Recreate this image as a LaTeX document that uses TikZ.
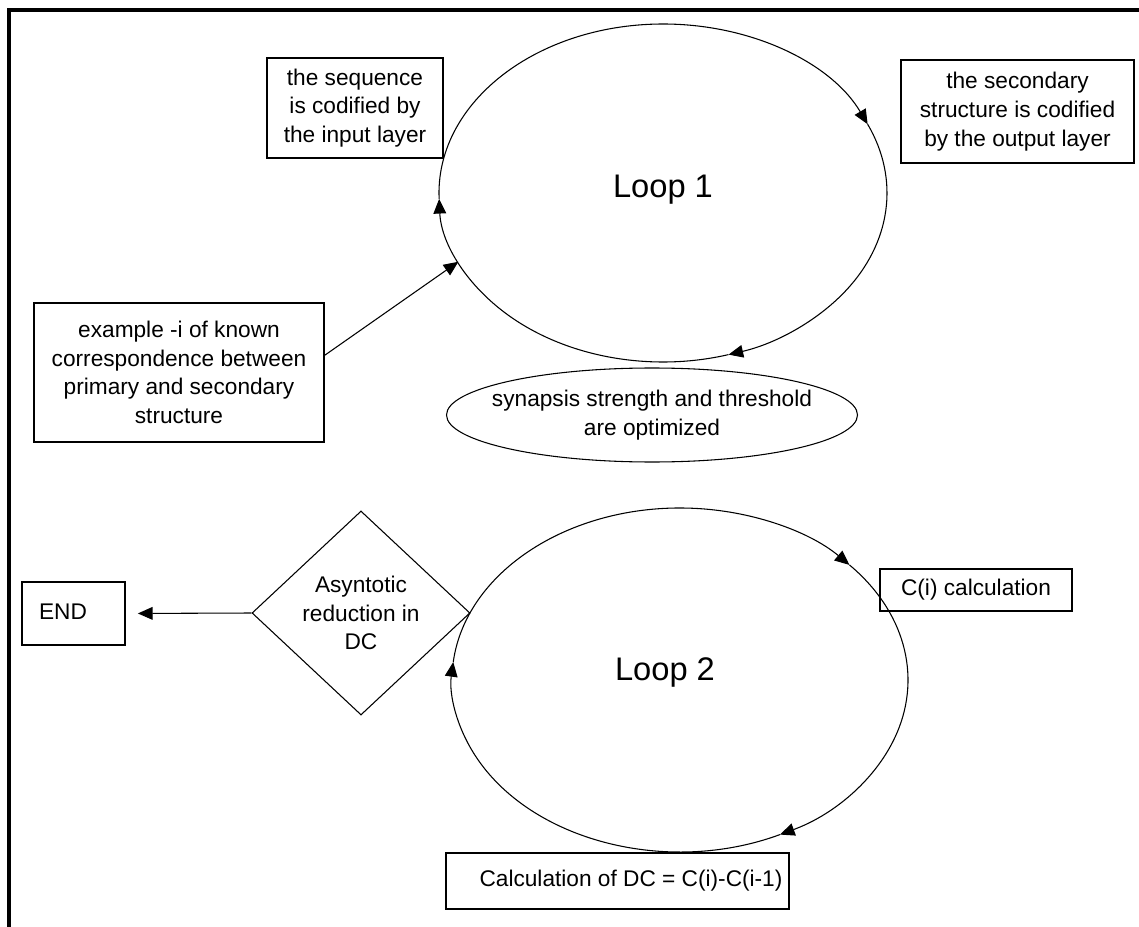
\documentclass[tikz,border=0pt]{standalone}
\usepackage{fontspec}
\setmainfont{Liberation Sans}
\usetikzlibrary{shapes.geometric,arrows.meta,calc}
\begin{document}
\begin{tikzpicture}[x=0.75pt,y=-0.75pt,
  box/.style={draw, line width=1.3pt, inner sep=0pt},
  txt/.style={font=\fontsize{17}{21.5}\selectfont, align=center},
  big/.style={font=\fontsize{24.5}{29}\selectfont},
  lp/.style={line width=0.8pt},
  tip/.style={-{Triangle[length=11pt,width=9.5pt]}},
]
\useasboundingbox (0,0) rectangle (1139,927);
% frame
\draw[line width=3pt] (1139,10) -- (8.5,10) -- (8.5,927);

% ---------- Loop 1 ----------
\coordinate (c1) at (663,193);
\node[big] (loop1) at (663,190) {Loop 1};
\draw[lp,tip] (c1) ++(178:224 and 169) arc[start angle=178, end angle=336, x radius=224, y radius=169];
\draw[lp,tip] (c1) ++(336:224 and 169) arc[start angle=336, end angle=433, x radius=224, y radius=169];
\draw[lp,tip] (c1) ++(73:224 and 169) arc[start angle=73, end angle=178, x radius=224, y radius=169];
\coordinate (l1in) at ($(c1)+(156:224 and 169)$);

\node[box, txt, minimum width=132pt, minimum height=75pt] (seq) at (355,108)
  {the sequence\\is codified by\\the input layer};
\node[box, txt, minimum width=174.75pt, minimum height=77.25pt] (sec) at (1017.5,111.5)
  {the secondary\\structure is codified\\by the output layer};
\node[box, txt, minimum width=217.5pt, minimum height=104.25pt] (ex) at (179,372.5)
  {example -i of known\\correspondence between\\primary and secondary\\structure};
\node[txt] (syn) at (652,415) {synapsis strength and threshold\\are optimized};
\draw[lp] (syn.center) ellipse[x radius=205.5, y radius=47];
\draw[lp,tip] ([yshift=13pt]ex.east) -- (l1in);

% ---------- Loop 2 ----------
\coordinate (c2) at (680,680);
\node[big] (loop2) at (665,672) {Loop 2};
\draw[lp,tip] (c2) ++(186:228 and 172) arc[start angle=186, end angle=318, x radius=228, y radius=172];
\draw[lp,tip] (c2) ++(318:228 and 172) arc[start angle=318, end angle=424, x radius=228, y radius=172];
\draw[lp,tip] (c2) ++(64:228 and 172) arc[start angle=64, end angle=186, x radius=228, y radius=172];

\node[draw, lp, diamond, txt, inner sep=0pt, minimum width=163.5pt, minimum height=153pt] (asy) at (361,613)
  {Asyntotic\\reduction in\\DC};
\node[box, minimum width=77.25pt, minimum height=47.25pt] (endb) at (73.5,613.5) {};
\node[txt] (endt) at (63,612) {END};
\draw[lp,tip,shorten >=9pt] (asy.west) -- (endb.east);

\node[box, txt, minimum width=144pt, minimum height=31.5pt] (ci) at (976,590) {C(i) calculation};
\node[box, minimum width=257.25pt, minimum height=42pt] (dc) at (617.5,881) {};
\node[txt] (dct) at (631,881) {Calculation of DC = C(i)-C(i-1)};
\end{tikzpicture}
\end{document}
